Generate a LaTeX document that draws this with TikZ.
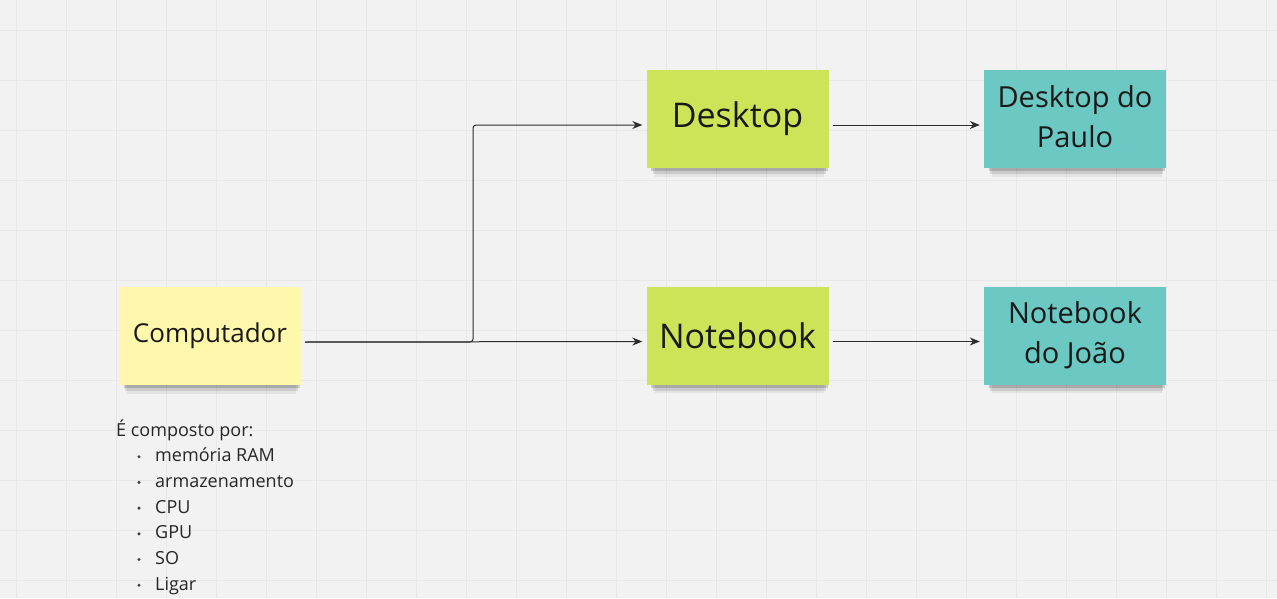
\documentclass[tikz,border=0pt]{standalone}
\usepackage{fontspec}
\setmainfont{Open Sans}
\usetikzlibrary{arrows.meta,shadows}
\definecolor{bgpaper}{RGB}{242,242,242}
\definecolor{gridgray}{RGB}{232,232,232}
\definecolor{stickyyellow}{RGB}{255,248,172}
\definecolor{stickylime}{RGB}{206,228,88}
\definecolor{stickyteal}{RGB}{108,200,194}
\definecolor{inkgray}{RGB}{45,45,45}

\tikzset{
  sticky/.style={minimum width=182pt, minimum height=98pt, inner sep=0pt, align=center, text=black!90,
    general shadow={fill=black, opacity=0.16, shadow xshift=2pt, shadow yshift=-5pt, shadow scale=0.97},
    general shadow={fill=black, opacity=0.11, shadow xshift=2pt, shadow yshift=-9pt, shadow scale=0.95},
    general shadow={fill=black, opacity=0.06, shadow xshift=2pt, shadow yshift=-13pt, shadow scale=0.93}},
  link/.style={draw=inkgray, line width=1pt, -{Stealth[length=10pt,width=8pt]}, shorten <=4pt, shorten >=4pt},
  listtext/.style={font=\fontsize{18}{21}\selectfont, text=black!85, inner sep=0pt, anchor=base west},
}

\begin{document}
\begin{tikzpicture}[x=1pt,y=-1pt]
\useasboundingbox (0,0) rectangle (1277,598);
\fill[bgpaper] (0,0) rectangle (1277,598);
\foreach \gx in {16,66,...,1266} \draw[gridgray, line width=1pt] (\gx,0) -- (\gx,598);
\foreach \gy in {30,80,...,580} \draw[gridgray, line width=1pt] (0,\gy) -- (1277,\gy);

\node[sticky, fill=stickyyellow, font=\fontsize{26}{30}\selectfont] (comp) at (210,336) {Computador};
\node[sticky, fill=stickylime, font=\fontsize{34}{38}\selectfont] (desk) at (737.5,119) {Desktop};
\node[sticky, fill=stickylime, font=\fontsize{34}{38}\selectfont] (note) at (737.5,335.5) {Notebook};
\node[sticky, fill=stickyteal, font=\fontsize{29}{40}\selectfont] (paulo) at (1075,119) {\raisebox{4pt}{\begin{tabular}{@{}c@{}}Desktop do\\Paulo\end{tabular}}};
\node[sticky, fill=stickyteal, font=\fontsize{29}{40}\selectfont] (joao) at (1075,335.5) {\raisebox{4pt}{\begin{tabular}{@{}c@{}}Notebook\\do João\end{tabular}}};

\coordinate (split) at (473,230);
\draw[link] ([yshift=-6pt]comp.east) -- ([yshift=-6pt]note.west);
\draw[link, rounded corners=3pt] ([yshift=-6pt]comp.east) -| (split) |- ([yshift=-6pt]desk.west);
\draw[link] ([yshift=-6pt]desk.east) -- ([yshift=-6pt]paulo.west);
\draw[link] ([yshift=-6pt]note.east) -- ([yshift=-6pt]joao.west);

\node[listtext] (intro) at (116,436) {É composto por:};
\foreach \peca [count=\i] in {memória RAM, armazenamento, CPU, GPU, SO, Ligar} {
  \fill[black!75] (139,436+\i*25.7-5) circle (1.7);
  \node[listtext] (item\i) at (155,436+\i*25.7) {\peca};
}
\end{tikzpicture}
\end{document}
